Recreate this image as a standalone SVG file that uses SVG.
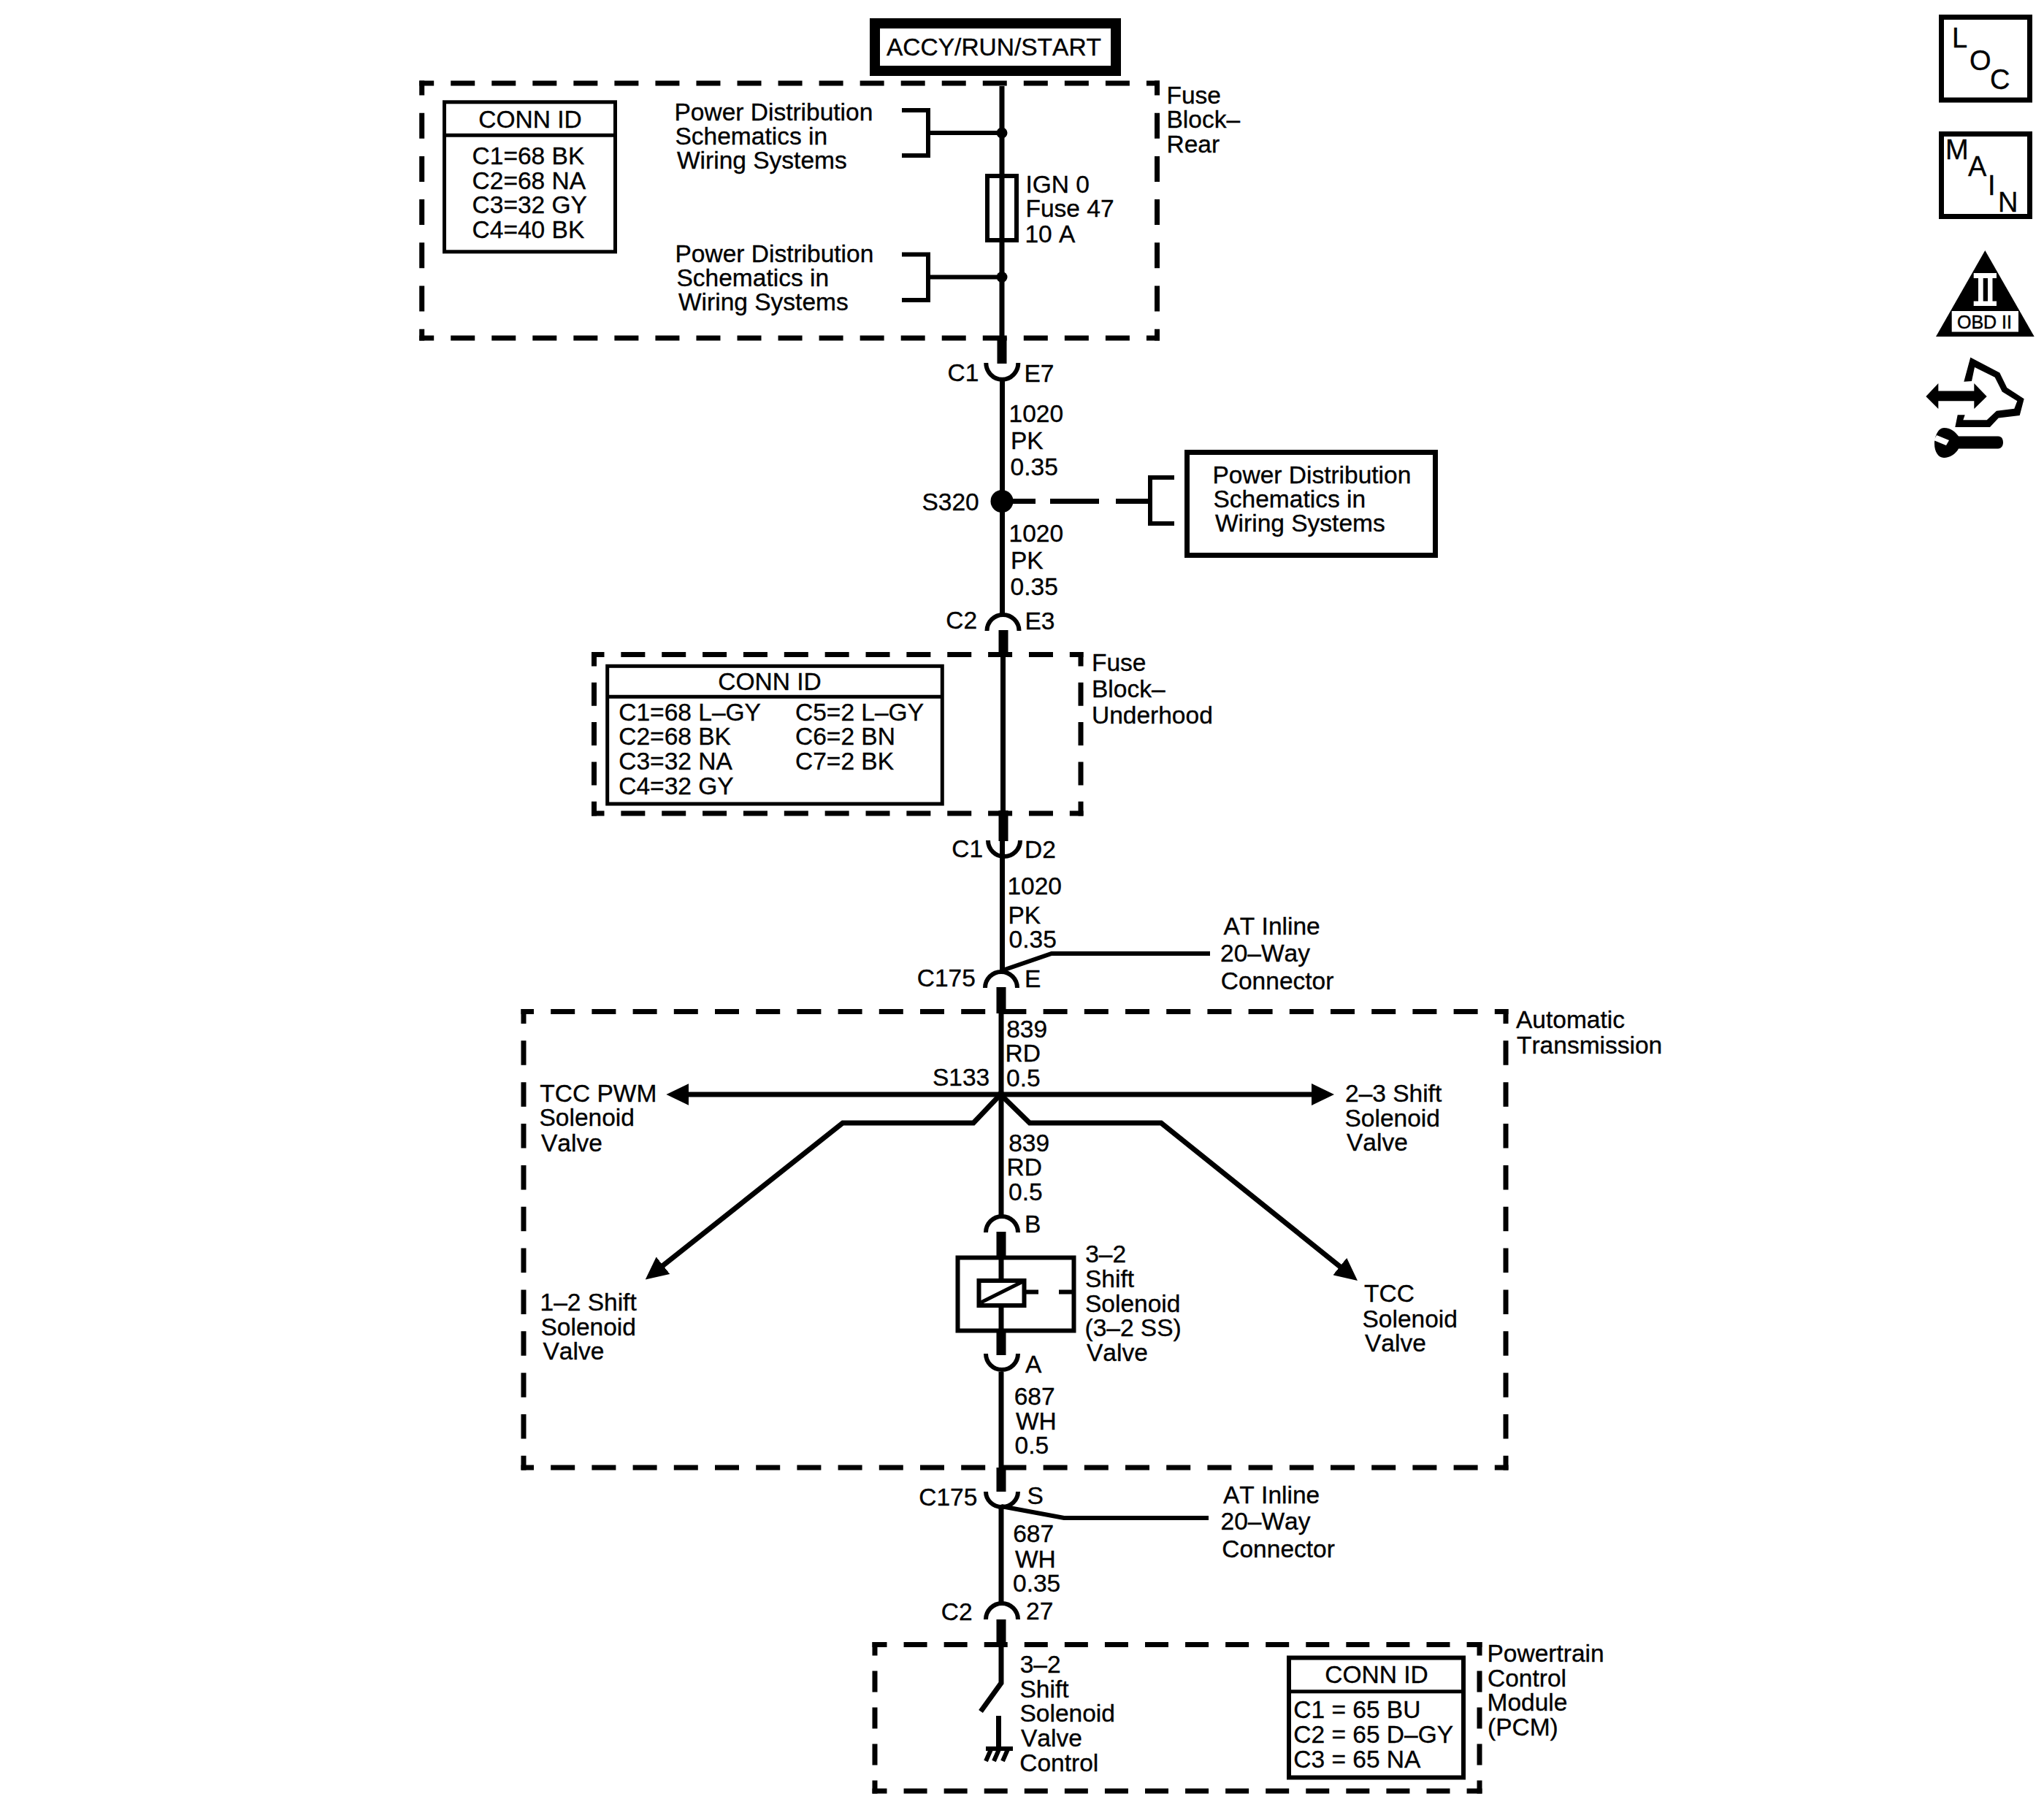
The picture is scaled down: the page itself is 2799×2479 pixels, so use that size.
<svg xmlns="http://www.w3.org/2000/svg" width="2799" height="2479" viewBox="0 0 2799 2479">
<style>
text{font-family:"Liberation Sans",Arial,sans-serif;font-size:33.5px;fill:#000;stroke:#000;stroke-width:.35px;font-kerning:none}
.m{text-anchor:middle}
.w,.s,.a,.b,.d,.l{fill:none;stroke:#000}
.w{stroke-width:7}
.s{stroke-width:13}
.a{stroke-width:6}
.b{stroke-width:5}
.d{stroke-width:7}
.l{stroke-width:6}
.i{font-size:38px}
.k{fill:#000}
.f{fill:#fff}
</style>
<defs>
<marker id="arrow" markerUnits="userSpaceOnUse" markerWidth="31" markerHeight="30" viewBox="0 0 31 30" refX="5" refY="15" orient="auto"><path d="M0 0L31 15L0 30Z" fill="#000"/></marker>
</defs>
<rect width="2799" height="2479" fill="#fff"/>

<g id="fuse-block-rear">
<path class="d" stroke-dasharray="33 23.04" stroke-dashoffset="13" d="M574.2 114H1588M574.2 463H1588"/>
<path class="d" stroke-dasharray="35 24.2" stroke-dashoffset="15" d="M577.7 110.5V466.5M1584.5 110.5V466.5"/>
<text x="1597.5" y="142">Fuse</text><text x="1597.5" y="175">Block–</text><text x="1597.5" y="209">Rear</text>
<rect class="b" x="608.5" y="139.8" width="234" height="205"/><path class="b" d="M608 185.3H843"/>
<text class="m" x="726" y="174.5">CONN ID</text>
<text x="646.6" y="225">C1=68 BK</text><text x="646.6" y="259">C2=68 NA</text><text x="646.6" y="292">C3=32 GY</text><text x="646.6" y="326">C4=40 BK</text>
<text x="923.5" y="165">Power Distribution</text><text x="924.5" y="198">Schematics in</text><text x="927" y="231">Wiring Systems</text>
<text x="924.5" y="359">Power Distribution</text><text x="926.5" y="392">Schematics in</text><text x="929" y="425">Wiring Systems</text>
</g>

<g id="underhood">
<path class="d" stroke-dasharray="33 22.86" stroke-dashoffset="15.5" d="M810 896.5H1483.5M810 1114H1483.5"/>
<path class="d" stroke-dasharray="32 22.3" stroke-dashoffset="12.5" d="M813.5 893V1117.5M1480 893V1117.5"/>
<text x="1495" y="919">Fuse</text><text x="1495" y="955">Block–</text><text x="1495" y="991">Underhood</text>
<rect class="b" x="831.7" y="912.3" width="458.6" height="188.7"/><path class="b" d="M831 954.3H1291"/>
<text class="m" x="1054" y="945">CONN ID</text>
<text x="847.3" y="987">C1=68 L–GY</text><text x="847.3" y="1020">C2=68 BK</text><text x="847.3" y="1054">C3=32 NA</text><text x="847.3" y="1088">C4=32 GY</text>
<text x="1089" y="987">C5=2 L–GY</text><text x="1089" y="1020">C6=2 BN</text><text x="1089" y="1054">C7=2 BK</text>
</g>

<g id="automatic-transmission">
<path class="d" stroke-dasharray="33 23.2" stroke-dashoffset="15.5" d="M713.5 1385.5H2065.5M713.5 2010H2065.5"/>
<path class="d" stroke-dasharray="33.5 23.35" stroke-dashoffset="13.5" d="M717 1382V2013.5M2062 1382V2013.5"/>
<text x="2076" y="1408">Automatic</text><text x="2077" y="1443">Transmission</text>
</g>

<g id="pcm">
<path class="d" stroke-dasharray="32 23.07" stroke-dashoffset="12" d="M1194.5 2252.5H2029.5M1194.5 2453H2029.5"/>
<path class="d" stroke-dasharray="29 21" stroke-dashoffset="10.5" d="M1198 2249V2456.5M2026 2249V2456.5"/>
<text x="2036.5" y="2276">Powertrain</text><text x="2037" y="2310">Control</text><text x="2036.5" y="2343">Module</text><text x="2037" y="2377">(PCM)</text>
<rect class="l" x="1765" y="2270.5" width="239" height="164"/><path class="b" d="M1762 2316.7H2007"/>
<text class="m" x="1885" y="2305">CONN ID</text>
<text x="1771.3" y="2353">C1 = 65 BU</text><text x="1771.3" y="2387">C2 = 65 D–GY</text><text x="1771.3" y="2421">C3 = 65 NA</text>
<text x="1396.7" y="2291">3–2</text><text x="1396.5" y="2325">Shift</text><text x="1396.5" y="2358">Solenoid</text><text x="1398" y="2392">Valve</text><text x="1396.3" y="2426">Control</text>
</g>

<g id="connectors">
<path class="w" d="M1372 118V470M1373.5 900V1115M1372.5 1150V1332M1372.5 522V845"/>
<path class="s" d="M1372 462V498M1374 863V900M1374 1110V1152M1371 1352V1388"/>
<path class="l" d="M1235 151H1271V213H1235M1271 182H1371"/>
<path class="l" d="M1235 348.5H1271V411H1235M1271 379.5H1371"/>
<path class="w" stroke-dasharray="33 20 67 23 47" d="M1385 686.5H1574"/>
<path class="l" d="M1608 654H1575V717H1608"/>
<path class="l" stroke-width="7" d="M1373 1329L1440 1306H1657"/>
<path class="w" d="M1371 1385V1499M1371 1499V1665"/>
<path class="w" marker-end="url(#arrow)" d="M1370 1499H938.4"/>
<path class="w" marker-end="url(#arrow)" d="M1370 1499H1801"/>
<path class="w" marker-end="url(#arrow)" d="M1370 1499L1333 1538H1154L904.1 1736.3"/>
<path class="w" marker-end="url(#arrow)" d="M1370 1499L1410 1538H1590L1838.7 1737.7"/>
<path class="s" d="M1371 1687V1722M1371 1825V1856M1371 2010V2043M1371 2218V2256"/>
<path class="w" d="M1371 1879V2012M1371 2062V2197M1371 2250V2305L1343 2344"/>
<path class="l" d="M1371 2063L1457 2079H1655"/>
<path class="w" d="M1367.5 2350V2395"/>
<path class="l" d="M1350 2395H1387M1357 2396L1350 2412M1368 2396L1361 2412M1380 2396L1373 2412"/>
</g>

<g id="accy-run-start">
<rect fill="#fff" stroke="#000" stroke-width="14" x="1198" y="32" width="330" height="65"/>
<text x="1214" y="76">ACCY/RUN/START</text>
</g>

<g id="fuse-47">
<rect fill="#fff" stroke="#000" stroke-width="6" x="1352" y="241" width="40" height="88"/>
<path class="w" d="M1372 238V331"/>
<text x="1404.5" y="264">IGN 0</text><text x="1404.5" y="297">Fuse 47</text><text x="1403.4" y="332">10 A</text>
<circle class="k" cx="1372" cy="182" r="7.5"/><circle class="k" cx="1372" cy="379.5" r="7.5"/>
</g>

<g id="c1-e7"><path class="a" d="M1350.3 497A22 22.7 0 0 0 1394.3 497"/>
<text x="1297.6" y="521.5">C1</text><text x="1402.5" y="523">E7</text>
<text x="1381.5" y="578">1020</text><text x="1384" y="614.5">PK</text><text x="1383.6" y="651">0.35</text></g>

<g id="s320"><circle class="k" cx="1372" cy="686.5" r="15.5"/>
<text x="1262.5" y="699">S320</text></g>

<g id="power-distribution">
<rect class="w" x="1625.5" y="619.5" width="340" height="141"/>
<text x="1660.5" y="662">Power Distribution</text><text x="1661.5" y="695">Schematics in</text><text x="1664" y="728">Wiring Systems</text>
</g>

<g id="c2-e3"><path class="a" d="M1351.5 864A22 22 0 0 1 1395.5 864"/>
<text x="1381.5" y="742">1020</text><text x="1384" y="779">PK</text><text x="1383.6" y="815">0.35</text>
<text x="1295.3" y="861">C2</text><text x="1403.5" y="862">E3</text></g>

<g id="c1-d2"><path class="a" d="M1353 1151A22 22 0 0 0 1397 1151"/>
<text x="1303.3" y="1174">C1</text><text x="1403" y="1175">D2</text>
<text x="1379.4" y="1225">1020</text><text x="1380.5" y="1265">PK</text><text x="1381.6" y="1298">0.35</text></g>

<g id="c175-e"><path class="a" d="M1349 1353A22 22 0 0 1 1393 1353"/>
<text x="1255.8" y="1351">C175</text><text x="1403" y="1352">E</text>
<text x="1675.5" y="1280">AT Inline</text><text x="1671" y="1316.5">20–Way</text><text x="1671.8" y="1355">Connector</text></g>

<g id="s133"><circle class="k" cx="1370.5" cy="1499" r="5"/>
<text x="1378.2" y="1421">839</text><text x="1376.5" y="1454">RD</text><text x="1378.1" y="1488">0.5</text>
<text x="1277" y="1487">S133</text>
<text x="1381.2" y="1576.5">839</text><text x="1378.5" y="1610">RD</text><text x="1381.1" y="1644">0.5</text></g>

<g id="tcc-pwm"><text x="739.3" y="1509">TCC PWM</text><text x="738.5" y="1542">Solenoid</text><text x="741" y="1576.5">Valve</text></g>
<g id="shift-2-3"><text x="1842" y="1509">2–3 Shift</text><text x="1841.5" y="1542.5">Solenoid</text><text x="1844" y="1576">Valve</text></g>
<g id="shift-1-2"><text x="739.5" y="1795">1–2 Shift</text><text x="740.5" y="1829">Solenoid</text><text x="743.5" y="1862">Valve</text></g>
<g id="tcc"><text x="1868" y="1783">TCC</text><text x="1865.5" y="1818">Solenoid</text><text x="1869" y="1851">Valve</text></g>

<g id="solenoid-3-2">
<path class="a" d="M1350 1688A22 22 0 0 1 1394 1688"/>
<path class="a" d="M1350 1854A22 22 0 0 0 1394 1854"/>
<rect class="l" x="1311.5" y="1722.5" width="159" height="100"/>
<path class="w" d="M1371 1722V1754M1371 1788V1823"/>
<rect class="l" x="1340.5" y="1754" width="62" height="34"/>
<path class="b" d="M1343 1784L1401 1755"/>
<path class="l" d="M1405 1769.5H1422M1450 1769.5H1468"/>
<text x="1403" y="1688">B</text><text x="1404" y="1880">A</text>
<text x="1486.2" y="1729">3–2</text><text x="1486" y="1763">Shift</text><text x="1486" y="1797">Solenoid</text><text x="1485.5" y="1830">(3–2 SS)</text><text x="1488" y="1864">Valve</text>
<text x="1388.7" y="1923.5">687</text><text x="1391" y="1957.5">WH</text><text x="1389.6" y="1991">0.5</text>
</g>

<g id="c175-s"><path class="a" d="M1350 2043A22 21 0 0 0 1394 2043"/>
<text x="1258.3" y="2062">C175</text><text x="1406.5" y="2060">S</text>
<text x="1675" y="2059">AT Inline</text><text x="1671.5" y="2095">20–Way</text><text x="1673.3" y="2133">Connector</text>
<text x="1387.2" y="2112">687</text><text x="1390" y="2147">WH</text><text x="1387" y="2180">0.35</text></g>

<g id="c2-27"><path class="a" d="M1350 2218A22 22 0 0 1 1394 2218"/>
<text x="1288.8" y="2219">C2</text><text x="1405" y="2218">27</text></g>

<g id="icon-loc"><rect class="w" x="2658.5" y="23.5" width="121" height="113.5"/>
<text class="i" x="2673" y="65">L</text><text class="i" x="2697" y="96">O</text><text class="i" x="2725" y="122">C</text></g>
<g id="icon-main"><rect class="w" x="2658.5" y="183.5" width="121" height="113"/>
<text class="i" x="2664" y="218">M</text><text class="i" x="2695" y="241">A</text><text class="i" x="2722" y="267">I</text><text class="i" x="2736" y="290">N</text></g>
<g id="icon-obd">
<path class="k" d="M2718.3 343L2785.7 461H2651Z"/>
<path class="f" d="M2702.7 374H2734V381H2728.5V412.5H2734V419H2702.7V412.5H2709V381H2702.7Z"/>
<path class="k" d="M2715.7 381H2722V412.5H2715.7Z"/>
<rect class="f" x="2672.7" y="426" width="91.3" height="28.5"/>
<text x="2680" y="450" style="font-size:25px;stroke-width:.5px">OBD II</text>
</g>
<g id="icon-service">
<path class="k" d="M2637.3 543L2654.3 525V535.4H2703.3V525L2720.7 543L2703.3 560V549.2H2654.3V560Z"/>
<path class="k" d="M2689.3 522.7L2698.3 489.5L2738.3 510.5L2748.3 531L2771.7 546.3L2765.7 569L2736.7 572.4L2725 585H2677.3L2680.7 568.2H2690.7L2688.3 575.3H2720.7L2734 562.7L2758.3 559.8L2762.3 549.2L2741.7 536.6L2731.7 516.8L2704 503L2700 522Z"/>
<path class="k" d="M2662 586C2672 586 2678 592 2682 597.6H2736C2742 597.6 2743 603 2743 606C2743 610 2741 614.5 2736 614.5H2682C2678 622 2670 627 2662 627C2654 627 2649 618 2649 608C2649 598 2654 586 2662 586Z"/>
<path class="f" d="M2652 596L2669 603L2665 610L2648 603Z"/>
</g>
</svg>
